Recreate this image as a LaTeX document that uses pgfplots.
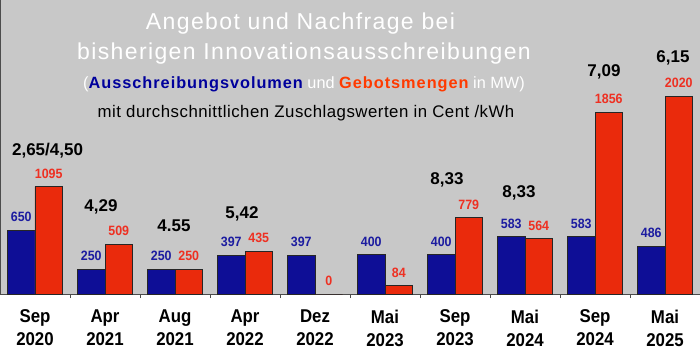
\documentclass[border=0pt]{standalone}
\usepackage{fontspec}
\setmainfont{Liberation Sans}
\usepackage{pgfplots}
\pgfplotsset{compat=1.18}
\newfontfamily\titlefont[LetterSpace=6]{Liberation Sans}
\newfontfamily\subfont[LetterSpace=6]{Liberation Sans}
\newfontfamily\linefont[LetterSpace=3]{Liberation Sans}
\newfontfamily\xfont[FakeStretch=0.91]{Liberation Sans}
\newfontfamily\valfont[FakeStretch=0.92]{Liberation Sans}
\definecolor{bgray}{HTML}{C8C8C8}
\definecolor{bblue}{HTML}{0E0E96}
\definecolor{bred}{HTML}{EA2A0C}
\definecolor{lblue}{HTML}{1C1CA0}
\definecolor{lred}{HTML}{EE3022}
\definecolor{subblue}{HTML}{00009C}
\definecolor{subred}{HTML}{FF3A00}
\begin{document}
\begin{tikzpicture}
\path[use as bounding box] (0pt,-67pt) rectangle (700pt,294pt);
\fill[white] (0pt,-67pt) rectangle (700pt,0pt);
\begin{axis}[
  at={(0pt,0pt)}, anchor=south west,
  scale only axis, width=700pt, height=294pt,
  xmin=-0.5, xmax=9.5, ymin=0, ymax=3000,
  axis background/.style={fill=bgray},
  axis x line*=bottom, axis y line*=left,
  axis line style={draw=black!70, line width=0.8pt},
  ybar=0pt, bar width=27.5pt,
  xtick={0,...,9},
  xticklabels={{Sep\\2020},{Apr\\2021},{Aug\\2021},{Apr\\2022},{Dez\\2022},{Mai\\2023},{Sep\\2023},{Mai\\2024},{Sep\\2024},{Mai\\2025}},
  major tick length=0pt,
  minor x tick num=1,
  minor tick length=4pt,
  tick align=outside,
  minor tick style={draw=black!70, line width=0.8pt},
  ytick=\empty,
  xticklabel style={font=\xfont\bfseries\fontsize{18.5}{22.7}\selectfont, align=center, anchor=north, inner sep=0pt, yshift=-15.8pt},
  /pgf/number format/assume math mode=true,
  /pgf/number format/1000 sep={},
  nodes near coords,
  every node near coord/.append style={font=\valfont\bfseries\fontsize{13.5}{15}\selectfont, inner sep=0pt, yshift=8pt},
  clip=false,
]
\addplot[fill=bblue, draw=black!85, line width=0.8pt, every node near coord/.append style={text=lblue}]
  coordinates {(0,650) (1,250) (2,250) (3,397) (4,397) (5,400) (6,400) (7,583) (8,583) (9,486)};
\addplot[fill=bred, draw=black!85, line width=0.8pt, every node near coord/.append style={text=lred}]
  coordinates {(0,1095) (1,509) (2,250) (3,435) (4,0) (5,84) (6,779) (7,564) (8,1856) (9,2020)};
\begin{scope}[every node/.style={font=\bfseries\fontsize{17}{20}\selectfont, anchor=base, inner sep=0pt}]
\node at (axis cs:0.179,1409) {2,65/4,50};
\node at (axis cs:0.943,838) {4,29};
\node at (axis cs:1.986,634) {4.55};
\node at (axis cs:2.957,766) {5,42};
\node at (axis cs:5.886,1113) {8,33};
\node at (axis cs:6.914,981) {8,33};
\node at (axis cs:8.129,2224) {7,09};
\node at (axis cs:9.114,2360) {6,15};
\end{scope}
\end{axis}
\node[anchor=base, inner sep=0pt, text=white, font=\titlefont\fontsize{23}{26}\selectfont] at (300.5pt,264pt) {Angebot und Nachfrage bei};
\node[anchor=base, inner sep=0pt, text=white, font=\titlefont\fontsize{23}{26}\selectfont] at (304pt,234pt) {bisherigen Innovationsausschreibungen};
\node[anchor=base, inner sep=0pt, text=white, font=\fontsize{16.3}{18}\selectfont] at (304pt,205.3pt) {(\textcolor{subblue}{\subfont\bfseries Ausschreibungsvolumen} und \textcolor{subred}{\subfont\bfseries Gebotsmengen} in MW)};
\node[anchor=base, inner sep=0pt, text=black, font=\linefont\fontsize{16.8}{19}\selectfont] at (306pt,176pt) {mit durchschnittlichen Zuschlagswerten in Cent /kWh};
\end{tikzpicture}
\end{document}
